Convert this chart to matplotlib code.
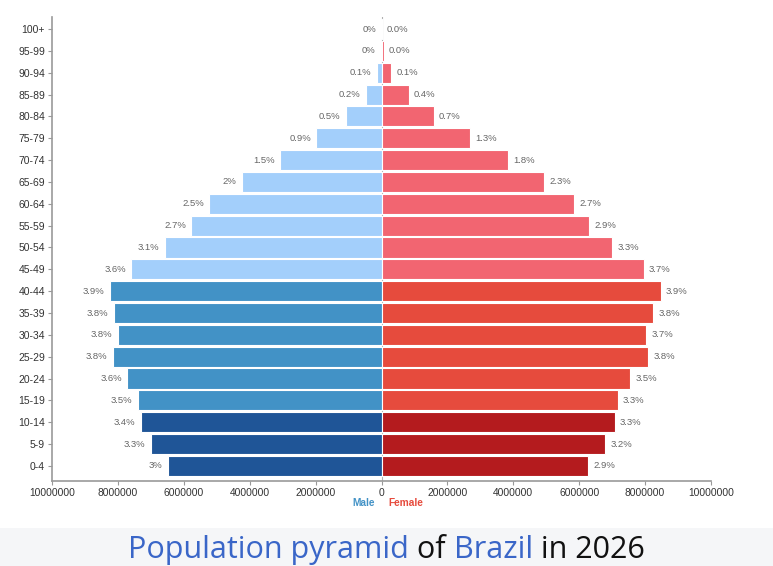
import matplotlib
matplotlib.use("Agg")
import matplotlib.pyplot as plt
import numpy as np
from matplotlib.patches import Rectangle

age_groups = ["0-4", "5-9", "10-14", "15-19", "20-24", "25-29", "30-34", "35-39",
              "40-44", "45-49", "50-54", "55-59", "60-64", "65-69", "70-74", "75-79",
              "80-84", "85-89", "90-94", "95-99", "100+"]
male = [6.48e6, 7.01e6, 7.31e6, 7.40e6, 7.72e6, 8.16e6, 8.01e6, 8.12e6, 8.24e6, 7.60e6,
        6.58e6, 5.77e6, 5.23e6, 4.23e6, 3.09e6, 1.98e6, 1.09e6, 0.48e6, 0.15e6, 0.03e6, 0.005e6]
female = [6.27e6, 6.78e6, 7.08e6, 7.17e6, 7.55e6, 8.09e6, 8.03e6, 8.24e6, 8.47e6, 7.96e6,
          7.01e6, 6.29e6, 5.85e6, 4.94e6, 3.84e6, 2.69e6, 1.58e6, 0.82e6, 0.29e6, 0.07e6, 0.01e6]
male_pct = ["3%", "3.3%", "3.4%", "3.5%", "3.6%", "3.8%", "3.8%", "3.8%", "3.9%", "3.6%",
            "3.1%", "2.7%", "2.5%", "2%", "1.5%", "0.9%", "0.5%", "0.2%", "0.1%", "0%", "0%"]
female_pct = ["2.9%", "3.2%", "3.3%", "3.3%", "3.5%", "3.8%", "3.7%", "3.8%", "3.9%", "3.7%",
              "3.3%", "2.9%", "2.7%", "2.3%", "1.8%", "1.3%", "0.7%", "0.4%", "0.1%", "0.0%", "0.0%"]
x_ticks = [-10000000, -8000000, -6000000, -4000000, -2000000, 0,
           2000000, 4000000, 6000000, 8000000, 10000000]

male_colors = {"young": "#1f5597", "mid": "#4292c6", "old": "#a3cffb"}
female_colors = {"young": "#b41b1e", "mid": "#e64b3d", "old": "#f26571"}

def group(i):
    if i <= 2:
        return "young"
    if i <= 8:
        return "mid"
    return "old"

W, H = 773, 566
fig = plt.figure(figsize=(W / 100, H / 100), dpi=100)
ax = fig.add_axes([52 / W, (H - 481) / H, 659 / W, 464 / H])

y = np.arange(len(age_groups))
mc = [male_colors[group(i)] for i in y]
fc = [female_colors[group(i)] for i in y]
ax.barh(y, [-v for v in male], height=0.92, color=mc, edgecolor="white", linewidth=0.8)
ax.barh(y, female, height=0.92, color=fc, edgecolor="white", linewidth=0.8)

pad = 160000
for i in y:
    ax.text(-male[i] - pad, i, male_pct[i], ha="right", va="center",
            fontsize=6.8, color="#666666", family="Liberation Sans")
    ax.text(female[i] + pad, i, female_pct[i], ha="left", va="center",
            fontsize=6.8, color="#666666", family="Liberation Sans")

ax.set_xlim(-10000000, 10000000)
ax.set_ylim(-0.69, 20.55)
ax.set_yticks(y)
ax.set_yticklabels(age_groups, family="Liberation Sans", fontsize=7.5, color="#333333")
ax.set_xticks(x_ticks)
ax.set_xticklabels([str(abs(t)) for t in x_ticks], family="Liberation Sans",
                   fontsize=7.4, color="#333333")
ax.axvline(0, color="#b0b0b0", lw=0.8, zorder=0.5)
for s in ["top", "right"]:
    ax.spines[s].set_visible(False)
for s in ["left", "bottom"]:
    ax.spines[s].set_color("#999999")
    ax.spines[s].set_linewidth(1.2)
ax.tick_params(axis="both", length=3, color="#999999", pad=2)

fig.text(375 / W, 1 - 503 / H, "Male", ha="right", va="center", fontsize=7.3,
         color="#4292c6", fontweight="bold", family="Liberation Sans")
fig.text(388 / W, 1 - 503 / H, "Female", ha="left", va="center", fontsize=7.3,
         color="#e64b3d", fontweight="bold", family="Liberation Sans")

fig.patches.append(Rectangle((0, 0), 1, (H - 528) / H, transform=fig.transFigure,
                             facecolor="#f5f6f8", edgecolor="none", zorder=0))

parts = [("Population pyramid", "#3a66c8"), (" of ", "#111111"),
         ("Brazil", "#3a66c8"), (" in 2026", "#111111")]
fig.canvas.draw()
r = fig.canvas.get_renderer()
fs = 22
fam = "Open Sans"
texts = []
widths = []
for s, c in parts:
    t = fig.text(0, 1 - 558 / H, s, fontsize=fs, color=c, family=fam, va="baseline", ha="left")
    texts.append(t)
    widths.append(t.get_window_extent(r).width)
total = sum(widths)
x0 = (W - total) / 2
for t, w in zip(texts, widths):
    t.set_x(x0 / W)
    x0 += w

fig.savefig("out.png", dpi=100)
